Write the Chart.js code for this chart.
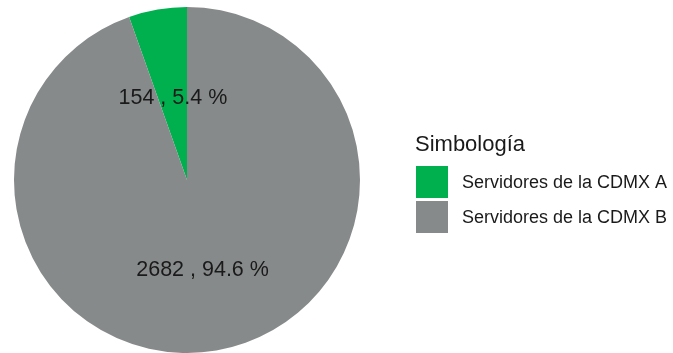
<!DOCTYPE html>
<html>
<head>
<meta charset="utf-8">
<script src="https://cdn.jsdelivr.net/npm/chart.js@4"></script>
<style>
  html, body { margin: 0; padding: 0; background: #ffffff; }
  canvas { display: block; }
</style>
</head>
<body>
<canvas id="pie" width="673" height="353"></canvas>
<script>
// Servidores de la CDMX por grupo
const categories = ['Servidores de la CDMX A', 'Servidores de la CDMX B'];
const counts = [154, 2682];
const percents = [5.4, 94.6];
const legendTitle = 'Simbología';

const colors = ['#00B04F', '#878A8B'];
const FONT = '"Liberation Sans", Arial, sans-serif';

const total = counts.reduce((a, b) => a + b, 0);
// Start the first slice so it ends at 12 o'clock (drawn counter-clockwise from the top)
const startRotation = -(counts[0] / total) * 360;

// Value labels placed inside each slice along its mid angle
const sliceLabels = {
  id: 'sliceLabels',
  afterDatasetsDraw(chart, args, opts) {
    const ctx = chart.ctx;
    const arcs = chart.getDatasetMeta(0).data;
    ctx.save();
    ctx.font = opts.size + 'px ' + FONT;
    ctx.fillStyle = '#1a1a1a';
    ctx.textAlign = 'center';
    ctx.textBaseline = 'middle';
    arcs.forEach((arc, i) => {
      const p = arc.getProps(['x', 'y', 'startAngle', 'endAngle', 'outerRadius'], true);
      const mid = (p.startAngle + p.endAngle) / 2;
      const r = p.outerRadius * opts.radiusFraction[i];
      const text = counts[i] + ' , ' + percents[i].toFixed(1) + ' %';
      ctx.fillText(text, p.x + Math.cos(mid) * r, p.y + Math.sin(mid) * r);
    });
    ctx.restore();
  }
};

// Legend with title and square keys, to the right of the pie
const sideLegend = {
  id: 'sideLegend',
  afterDraw(chart, args, opts) {
    const ctx = chart.ctx;
    const ds = chart.data.datasets[0];
    ctx.save();
    ctx.textAlign = 'left';
    ctx.textBaseline = 'middle';
    ctx.fillStyle = '#1a1a1a';
    ctx.font = opts.titleSize + 'px ' + FONT;
    ctx.fillText(legendTitle, opts.x - 1, opts.titleY);
    ctx.font = opts.itemSize + 'px ' + FONT;
    chart.data.labels.forEach((lab, i) => {
      const top = opts.firstY + i * opts.step;
      ctx.fillStyle = ds.backgroundColor[i];
      ctx.fillRect(opts.x, top, opts.box, opts.box);
      ctx.fillStyle = '#1a1a1a';
      ctx.fillText(lab, opts.x + opts.box + 14, top + opts.box / 2 + 1);
    });
    ctx.restore();
  }
};

new Chart(document.getElementById('pie'), {
  type: 'pie',
  data: {
    labels: categories,
    datasets: [{
      data: counts,
      backgroundColor: colors,
      borderWidth: 0,
      hoverOffset: 0
    }]
  },
  options: {
    responsive: false,
    animation: false,
    rotation: startRotation,
    layout: { padding: { left: 14, right: 313, top: 7, bottom: 0 } },
    plugins: {
      legend: { display: false },
      tooltip: { enabled: false },
      sliceLabels: { size: 21.5, radiusFraction: [0.48, 0.53] },
      sideLegend: { x: 416, titleY: 145, titleSize: 22, itemSize: 18, firstY: 166, step: 35, box: 32 }
    }
  },
  plugins: [sliceLabels, sideLegend]
});
</script>
</body>
</html>
